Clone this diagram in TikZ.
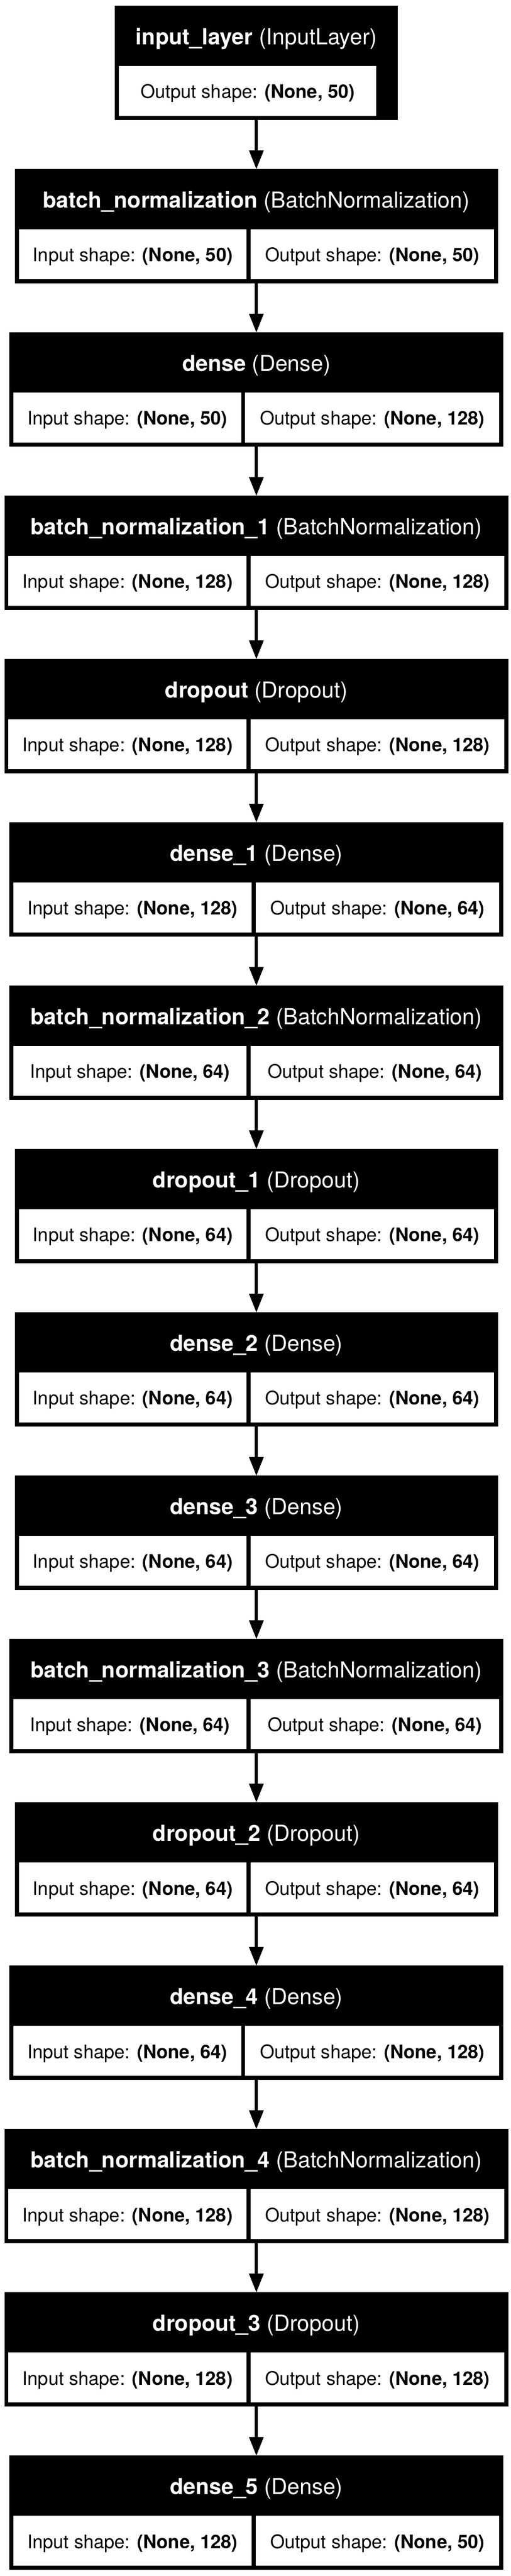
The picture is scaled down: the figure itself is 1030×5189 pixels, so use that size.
\documentclass[tikz,border=0pt]{standalone}
\usepackage{fontspec}
\setmainfont{TeX Gyre Heros}
\usetikzlibrary{positioning,arrows.meta}

\begin{document}
\begin{tikzpicture}[
    x=1pt, y=1pt,
    node distance=100pt,
    layer/.style={rectangle, fill=black, draw=black, line width=0.8pt, outer sep=0pt, inner sep=0pt, minimum height=229pt, text=white, font=\fontsize{44.5}{50}\selectfont, text height=30pt, text depth=104pt},
    cell/.style={rectangle, fill=white, inner sep=0pt, outer sep=0pt, minimum height=100pt, font=\fontsize{37.6}{42}\selectfont, text height=37pt, text depth=7pt},
    incell/.style={cell, anchor=south west},
    outcell/.style={cell, anchor=south east},
    arrow/.style={-{Triangle[length=38pt,width=28pt]}, line width=6.5pt}
]

\fill[white] (0,0) rectangle (1030,-5189);

% layers
\node[layer, minimum width=570pt, anchor=north] (input) at (517,-12) {\textbf{input\_layer} (InputLayer)};
\node[layer, minimum width=973pt, below=of input] (bn) {\textbf{batch\_normalization} (BatchNormalization)};
\node[layer, minimum width=995pt, below=of bn] (dense) {\textbf{dense} (Dense)};
\node[layer, minimum width=1015pt, below=of dense] (bn1) {\textbf{batch\_normalization\_1} (BatchNormalization)};
\node[layer, minimum width=1015pt, below=of bn1] (drop) {\textbf{dropout} (Dropout)};
\node[layer, minimum width=995pt, below=of drop] (dense1) {\textbf{dense\_1} (Dense)};
\node[layer, minimum width=995pt, below=of dense1] (bn2) {\textbf{batch\_normalization\_2} (BatchNormalization)};
\node[layer, minimum width=973pt, below=of bn2] (drop1) {\textbf{dropout\_1} (Dropout)};
\node[layer, minimum width=973pt, below=of drop1] (dense2) {\textbf{dense\_2} (Dense)};
\node[layer, minimum width=973pt, below=of dense2] (dense3) {\textbf{dense\_3} (Dense)};
\node[layer, minimum width=995pt, below=of dense3] (bn3) {\textbf{batch\_normalization\_3} (BatchNormalization)};
\node[layer, minimum width=973pt, below=of bn3] (drop2) {\textbf{dropout\_2} (Dropout)};
\node[layer, minimum width=995pt, below=of drop2] (dense4) {\textbf{dense\_4} (Dense)};
\node[layer, minimum width=1015pt, below=of dense4] (bn4) {\textbf{batch\_normalization\_4} (BatchNormalization)};
\node[layer, minimum width=1015pt, below=of bn4] (drop3) {\textbf{dropout\_3} (Dropout)};
\node[layer, minimum width=995pt, below=of drop3] (dense5) {\textbf{dense\_5} (Dense)};

% shape cells
\node[incell, minimum width=519pt] (input-out) at ([shift={(8,8)}]input.south west) {Output shape: \textbf{(None, 50)}};

\node[incell, minimum width=459.5pt] (bn-in) at ([shift={(7.5,8)}]bn.south west) {Input shape: \textbf{(None, 50)}};
\node[outcell, minimum width=490.5pt] (bn-out) at ([shift={(-7.5,8)}]bn.south east) {Output shape: \textbf{(None, 50)}};

\node[incell, minimum width=459.5pt] (dense-in) at ([shift={(7.5,8)}]dense.south west) {Input shape: \textbf{(None, 50)}};
\node[outcell, minimum width=512.5pt] (dense-out) at ([shift={(-7.5,8)}]dense.south east) {Output shape: \textbf{(None, 128)}};

\node[incell, minimum width=480.5pt] (bn1-in) at ([shift={(7.5,8)}]bn1.south west) {Input shape: \textbf{(None, 128)}};
\node[outcell, minimum width=511.5pt] (bn1-out) at ([shift={(-7.5,8)}]bn1.south east) {Output shape: \textbf{(None, 128)}};

\node[incell, minimum width=480.5pt] (drop-in) at ([shift={(7.5,8)}]drop.south west) {Input shape: \textbf{(None, 128)}};
\node[outcell, minimum width=511.5pt] (drop-out) at ([shift={(-7.5,8)}]drop.south east) {Output shape: \textbf{(None, 128)}};

\node[incell, minimum width=480.5pt] (dense1-in) at ([shift={(7.5,8)}]dense1.south west) {Input shape: \textbf{(None, 128)}};
\node[outcell, minimum width=491.5pt] (dense1-out) at ([shift={(-7.5,8)}]dense1.south east) {Output shape: \textbf{(None, 64)}};

\node[incell, minimum width=470.5pt] (bn2-in) at ([shift={(7.5,8)}]bn2.south west) {Input shape: \textbf{(None, 64)}};
\node[outcell, minimum width=501.5pt] (bn2-out) at ([shift={(-7.5,8)}]bn2.south east) {Output shape: \textbf{(None, 64)}};

\node[incell, minimum width=459.5pt] (drop1-in) at ([shift={(7.5,8)}]drop1.south west) {Input shape: \textbf{(None, 64)}};
\node[outcell, minimum width=490.5pt] (drop1-out) at ([shift={(-7.5,8)}]drop1.south east) {Output shape: \textbf{(None, 64)}};

\node[incell, minimum width=459.5pt] (dense2-in) at ([shift={(7.5,8)}]dense2.south west) {Input shape: \textbf{(None, 64)}};
\node[outcell, minimum width=490.5pt] (dense2-out) at ([shift={(-7.5,8)}]dense2.south east) {Output shape: \textbf{(None, 64)}};

\node[incell, minimum width=459.5pt] (dense3-in) at ([shift={(7.5,8)}]dense3.south west) {Input shape: \textbf{(None, 64)}};
\node[outcell, minimum width=490.5pt] (dense3-out) at ([shift={(-7.5,8)}]dense3.south east) {Output shape: \textbf{(None, 64)}};

\node[incell, minimum width=470.5pt] (bn3-in) at ([shift={(7.5,8)}]bn3.south west) {Input shape: \textbf{(None, 64)}};
\node[outcell, minimum width=501.5pt] (bn3-out) at ([shift={(-7.5,8)}]bn3.south east) {Output shape: \textbf{(None, 64)}};

\node[incell, minimum width=459.5pt] (drop2-in) at ([shift={(7.5,8)}]drop2.south west) {Input shape: \textbf{(None, 64)}};
\node[outcell, minimum width=490.5pt] (drop2-out) at ([shift={(-7.5,8)}]drop2.south east) {Output shape: \textbf{(None, 64)}};

\node[incell, minimum width=459.5pt] (dense4-in) at ([shift={(7.5,8)}]dense4.south west) {Input shape: \textbf{(None, 64)}};
\node[outcell, minimum width=512.5pt] (dense4-out) at ([shift={(-7.5,8)}]dense4.south east) {Output shape: \textbf{(None, 128)}};

\node[incell, minimum width=480.5pt] (bn4-in) at ([shift={(7.5,8)}]bn4.south west) {Input shape: \textbf{(None, 128)}};
\node[outcell, minimum width=511.5pt] (bn4-out) at ([shift={(-7.5,8)}]bn4.south east) {Output shape: \textbf{(None, 128)}};

\node[incell, minimum width=480.5pt] (drop3-in) at ([shift={(7.5,8)}]drop3.south west) {Input shape: \textbf{(None, 128)}};
\node[outcell, minimum width=511.5pt] (drop3-out) at ([shift={(-7.5,8)}]drop3.south east) {Output shape: \textbf{(None, 128)}};

\node[incell, minimum width=480.5pt] (dense5-in) at ([shift={(7.5,8)}]dense5.south west) {Input shape: \textbf{(None, 128)}};
\node[outcell, minimum width=491.5pt] (dense5-out) at ([shift={(-7.5,8)}]dense5.south east) {Output shape: \textbf{(None, 50)}};

% connections
\draw[arrow] (input) -- (bn);
\draw[arrow] (bn) -- (dense);
\draw[arrow] (dense) -- (bn1);
\draw[arrow] (bn1) -- (drop);
\draw[arrow] (drop) -- (dense1);
\draw[arrow] (dense1) -- (bn2);
\draw[arrow] (bn2) -- (drop1);
\draw[arrow] (drop1) -- (dense2);
\draw[arrow] (dense2) -- (dense3);
\draw[arrow] (dense3) -- (bn3);
\draw[arrow] (bn3) -- (drop2);
\draw[arrow] (drop2) -- (dense4);
\draw[arrow] (dense4) -- (bn4);
\draw[arrow] (bn4) -- (drop3);
\draw[arrow] (drop3) -- (dense5);

\end{tikzpicture}
\end{document}
